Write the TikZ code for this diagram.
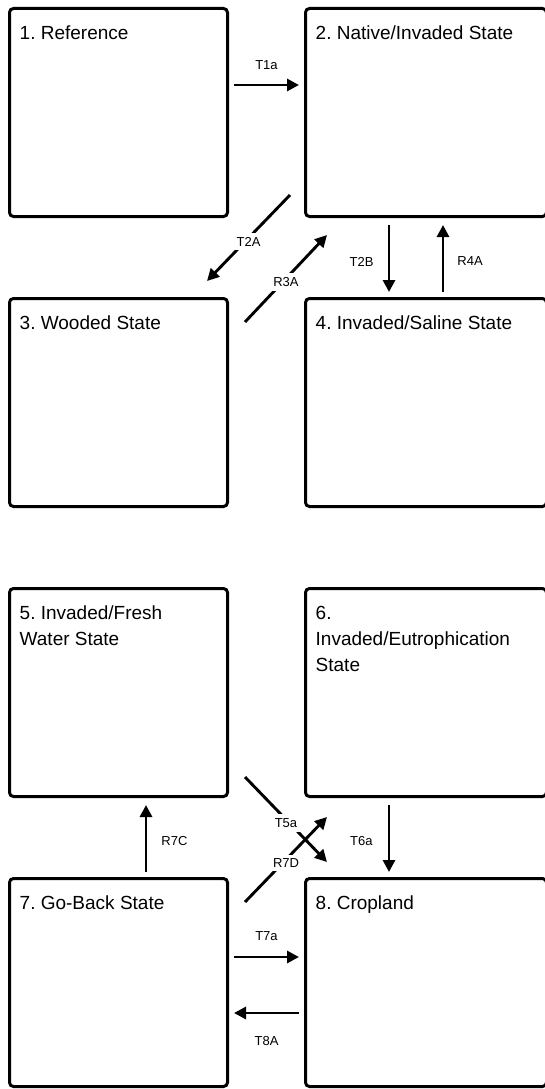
\documentclass[tikz,border=0pt]{standalone}
\usepackage{fontspec}
\setmainfont{Liberation Sans}
\usepackage{xcolor}
\usepackage{tikz}
\usetikzlibrary{arrows.meta,positioning}
\definecolor{ink}{HTML}{000000}
\frenchspacing
\tikzset{
  statebox/.style={draw=ink, line width=3pt, rounded corners=4pt, inner sep=0pt, outer sep=0pt, minimum height=208pt},
  boxl/.style={statebox, minimum width=218pt},
  boxr/.style={statebox, minimum width=241pt},
  stitle/.style={inner sep=0pt, align=left, text=ink, font=\fontsize{19}{26}\selectfont},
  arr/.style={draw=ink, line width=2.9pt, -{Triangle[length=12pt,width=12pt]}},
  arrh/.style={arr, shorten <=6.5pt, shorten >=6.5pt},
  arrdn/.style={arr, shorten <=8.5pt, shorten >=6.5pt},
  arrup/.style={arr, shorten <=6.5pt, shorten >=8.5pt},
  lab/.style={inner sep=0pt, text=ink, font=\fontsize{13}{15}\selectfont},
  labw/.style={lab, fill=white, inner sep=4pt, yshift=-3.5pt}
}

\begin{document}
\begin{tikzpicture}[x=1pt, y=-1pt]
  \useasboundingbox (0,0) rectangle (545,1089);
  \clip (0,0) rectangle (545,1089);

  % state boxes
  \node[boxl] (b1) at (118.5,112.5) {};
  \node[boxr, right=78pt of b1] (b2) {};
  \node[boxl, below=82pt of b1] (b3) {};
  \node[boxr, below=82pt of b2] (b4) {};
  \node[boxl, below=82pt of b3] (b5) {};
  \node[boxr, below=82pt of b4] (b6) {};
  \node[boxl, below=82pt of b5] (b7) {};
  \node[boxr, below=82pt of b6] (b8) {};

  \node[stitle, below right=17.5pt and 10pt of b1.north west] (t1) {1. Reference};
  \node[stitle, below right=17.5pt and 10pt of b2.north west] (t2) {2. Native/Invaded State};
  \node[stitle, below right=17.5pt and 10pt of b3.north west] (t3) {3. Wooded State};
  \node[stitle, below right=17.5pt and 10pt of b4.north west] (t4) {4. Invaded/Saline State};
  \node[stitle, below right=17.5pt and 10pt of b5.north west] (t5) {5. Invaded/Fresh\\Water State};
  \node[stitle, below right=17.5pt and 10pt of b6.north west] (t6) {6.\\Invaded/Eutrophication\\State};
  \node[stitle, below right=17.5pt and 10pt of b7.north west] (t7) {7. Go-Back State};
  \node[stitle, below right=17.5pt and 10pt of b8.north west] (t8) {8. Cropland};

  % transitions
  \draw[arrh] ([yshift=27.5pt]b1.east) -- node[lab, above=14pt] {T1a} ([yshift=27.5pt]b2.west);
  \draw[arr] ([xshift=-15.5pt,yshift=21.5pt]b2.south west) -- node[labw] {T2A} ([xshift=-20.5pt,yshift=17.5pt]b3.north east);
  \draw[arr] ([xshift=17.5pt,yshift=-23.5pt]b3.north east) -- node[labw] {R3A} ([xshift=21.5pt,yshift=-18.5pt]b2.south west);
  \draw[arrdn] ([xshift=-37pt]b2.south) -- node[lab, left=14pt, yshift=-4pt] {T2B} ([xshift=-37pt]b4.north);
  \draw[arrup] ([xshift=17pt]b4.north) -- node[lab, right=13pt, yshift=-4pt] {R4A} ([xshift=17pt]b2.south);

  \draw[arrup] ([xshift=27.5pt]b7.north) -- node[lab, right=14pt, yshift=-3.5pt] {R7C} ([xshift=27.5pt]b5.south);
  \draw[arrdn] ([xshift=-37pt]b6.south) -- node[lab, left=15pt, yshift=-3.5pt] {T6a} ([xshift=-37pt]b8.north);
  \draw[arr] ([xshift=17.5pt,yshift=19.5pt]b5.south east) -- node[labw] {T5a} ([xshift=21.5pt,yshift=16.5pt]b8.north west);
  \draw[arr] ([xshift=17.5pt,yshift=-23.5pt]b7.north east) -- node[labw] {R7D} ([xshift=21.5pt,yshift=-20.5pt]b6.south west);
  \draw[arrh] ([yshift=25.5pt]b7.east) -- node[lab, above=15pt] {T7a} ([yshift=25.5pt]b8.west);
  \draw[arrh] ([yshift=-30.5pt]b8.west) -- node[lab, below=22pt] {T8A} ([yshift=-30.5pt]b7.east);
\end{tikzpicture}
\end{document}
